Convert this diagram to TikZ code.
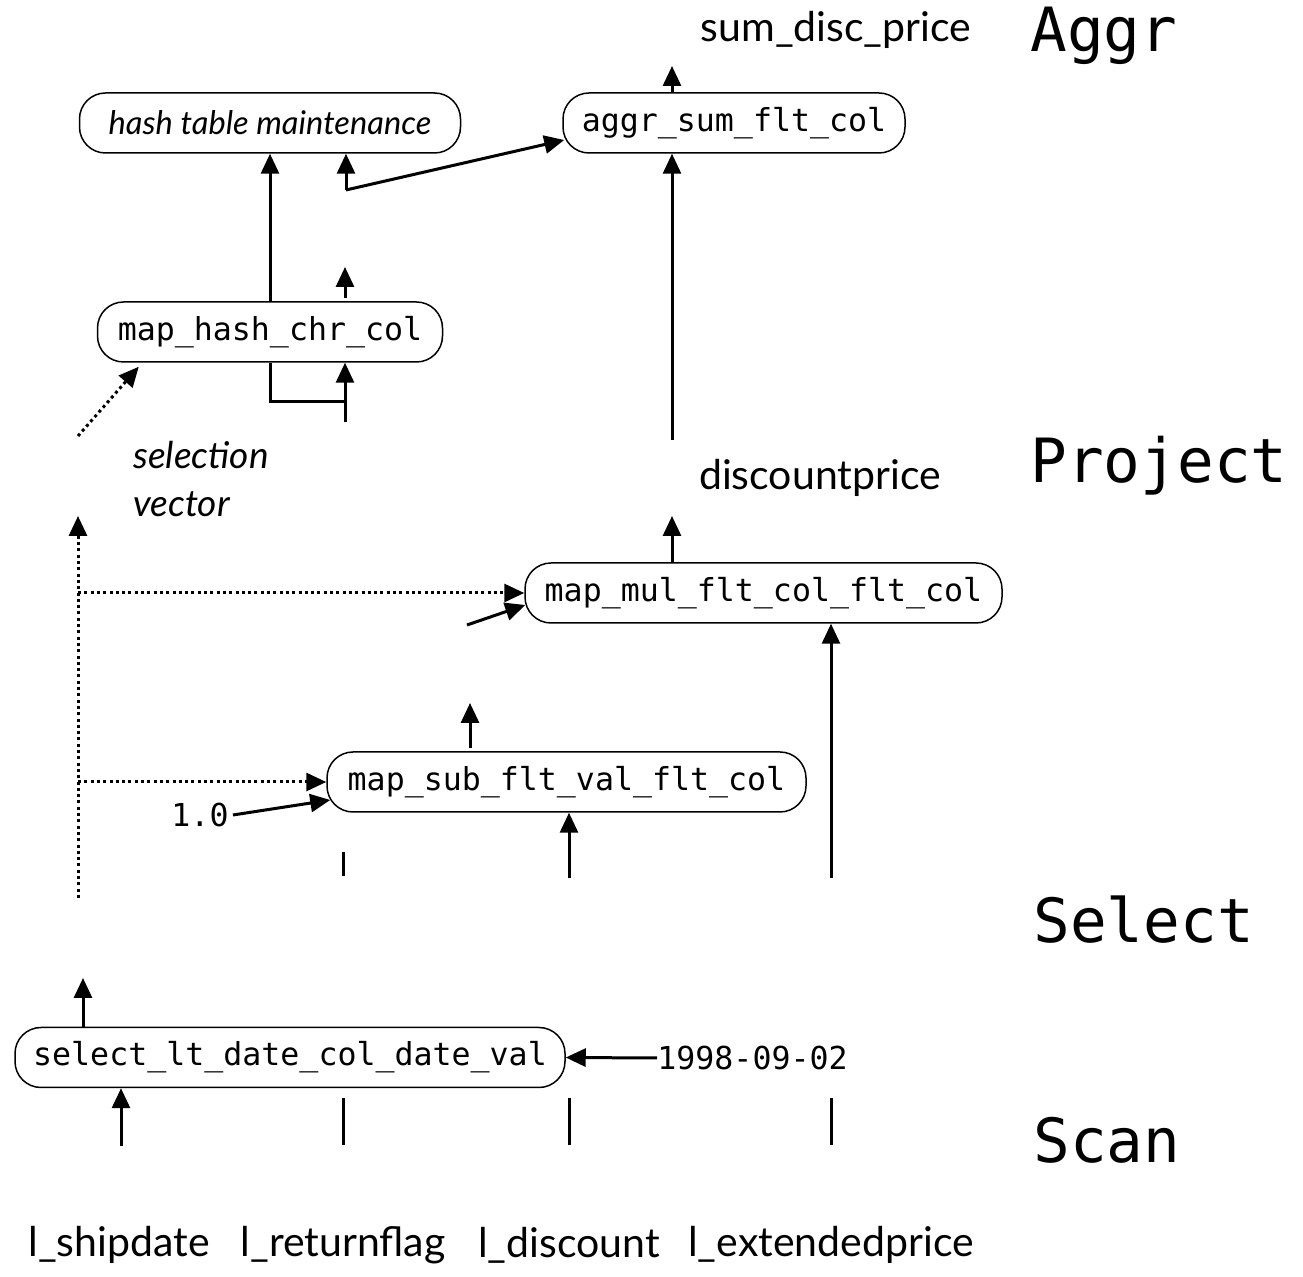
\documentclass[tikz,border=0pt]{standalone}
\usepackage{fontspec}
\setmainfont{Lato}
\newfontfamily\monofont{DejaVu Sans Mono}
\usetikzlibrary{arrows.meta,calc}
\newcommand\labfont{\fontsize{20.5}{24}\selectfont}
\newcommand\htfont{\fontsize{16.3}{20}\selectfont\itshape}
\newcommand\svfont{\fontsize{18.5}{24}\selectfont\itshape}
\newcommand\boxfont{\monofont\fontsize{15.8}{18}\selectfont}
\newcommand\stagefont{\monofont\fontsize{30.5}{36}\selectfont}
\begin{document}
\begin{tikzpicture}[x=0.5pt,y=-0.5pt,
  tip/.tip={Triangle[length=10pt,width=9pt]},
  arr/.style={line width=1.5pt,-tip},
  plain/.style={line width=1.5pt},
  dotarr/.style={line width=1.5pt,dash pattern=on 1.5pt off 1.65pt,-tip},
  opbox/.style={draw,line width=0.75pt,rounded corners=13pt,minimum height=30pt,inner sep=0pt,font=\boxfont},
  lab/.style={inner sep=0pt,font=\labfont},
  stage/.style={inner sep=0pt,anchor=west,font=\stagefont},
  val/.style={inner sep=0pt,font=\boxfont}]
\useasboundingbox (0,0) rectangle (1303,1277);

% operator boxes
\node[opbox,minimum width=190.5pt,font=\htfont] (ht) at (270,123) {hash table maintenance};
\node[opbox,minimum width=171pt] (aggr) at (734,123) {aggr\_sum\_flt\_col};
\node[opbox,minimum width=172.5pt] (mh) at (270,332) {map\_hash\_chr\_col};
\node[opbox,minimum width=238.5pt] (mul) at (763.5,593) {map\_mul\_flt\_col\_flt\_col};
\node[opbox,minimum width=239.5pt] (sub) at (566.5,782) {map\_sub\_flt\_val\_flt\_col};
\node[opbox,minimum width=275pt] (sel) at (290,1057.5) {select\_lt\_date\_col\_date\_val};

% labels
\node[lab] (sdp) at (836,30) {sum\_disc\_price};
\node[lab] (dcp) at (820,478) {discountprice};
\node[lab,anchor=west,align=left,font=\svfont] (sv) at (133,479) {selection\\vector};
\node[val] (one) at (200,815) {1.0};
\node[val,anchor=west] (date) at (657,1058) {1998-09-02};

\node[lab] (c1) at (119,1245) {l\_shipdate};
\node[lab] (c2) at (343,1245) {l\_returnflag};
\node[lab] (c3) at (569,1245) {l\_discount};
\node[lab] (c4) at (831,1245) {l\_extendedprice};

\node[stage] (s1) at (1030,36) {Aggr};
\node[stage] (s2) at (1030,466) {Project};
\node[stage] (s3) at (1033,920) {Select};
\node[stage] (s4) at (1033,1140) {Scan};

% coordinates for free ends
\coordinate (aggrout) at (672,66);
\coordinate (dpin) at (672,440);
\coordinate (split) at (346,190);
\coordinate (mhout) at (345,267);
\coordinate (mhoutb) at (345,298);
\coordinate (mhin) at (345,422);
\coordinate (knee) at (345,402);
\coordinate (svfrom) at (78,436);
\coordinate (svtop) at (78,516);
\coordinate (svbot) at (78,898);
\coordinate (mulin2) at (467,625);
\coordinate (mulout) at (672,516);
\coordinate (extin) at (831,878);
\coordinate (subout) at (470,703);
\coordinate (suboutb) at (470,748);
\coordinate (discin) at (569,878);
\coordinate (rfa) at (343,852);
\coordinate (rfb) at (343,876);
\coordinate (selout) at (83,978);
\coordinate (selin) at (121,1146);
\coordinate (ba) at (343,1098);
\coordinate (bb) at (343,1145);
\coordinate (bc) at (569,1098);
\coordinate (bd) at (569,1145);
\coordinate (be) at (831,1098);
\coordinate (bf) at (831,1145);

% aggregation
\draw[arr] (aggrout |- aggr.north) -- (aggrout);
\draw[arr] (dpin) -- (dpin |- aggr.south);
\draw[arr] (mh.north) -- (ht.south);
\draw[arr] (split) -- (split |- ht.south);
\draw[arr] (split) -- ($(aggr.west)+(2,17)$);
\draw[arr] (mhoutb) -- (mhout);
\draw[plain] (mh.south) |- (knee);
\draw[arr] (mhin) -- (mhin |- mh.south);
\draw[dotarr] (svfrom) -- ($(mh.south west)+(42,4)$);

% selection vector
\draw[dotarr] (svbot) -- (svtop);
\draw[dotarr] (mul.west -| svbot) -- (mul.west);
\draw[dotarr] (sub.west -| svbot) -- (sub.west);

% project
\draw[arr] (mulout |- mul.north) -- (mulout);
\draw[arr] (mulin2) -- ($(mul.west)+(1,12)$);
\draw[arr] (extin) -- (extin |- mul.south);
\draw[arr] (suboutb) -- (subout);
\draw[arr] (one.east) ++(4,0) -- ($(sub.west)+(4,18)$);
\draw[arr] (discin) -- (discin |- sub.south);
\draw[plain] (rfa) -- (rfb);

% select
\draw[arr] (selout |- sel.north) -- (selout);
\draw[arr] (date.west) -- (sel.east);
\draw[arr] (selin) -- (selin |- sel.south);
\draw[plain] (ba) -- (bb);
\draw[plain] (bc) -- (bd);
\draw[plain] (be) -- (bf);
\end{tikzpicture}
\end{document}
